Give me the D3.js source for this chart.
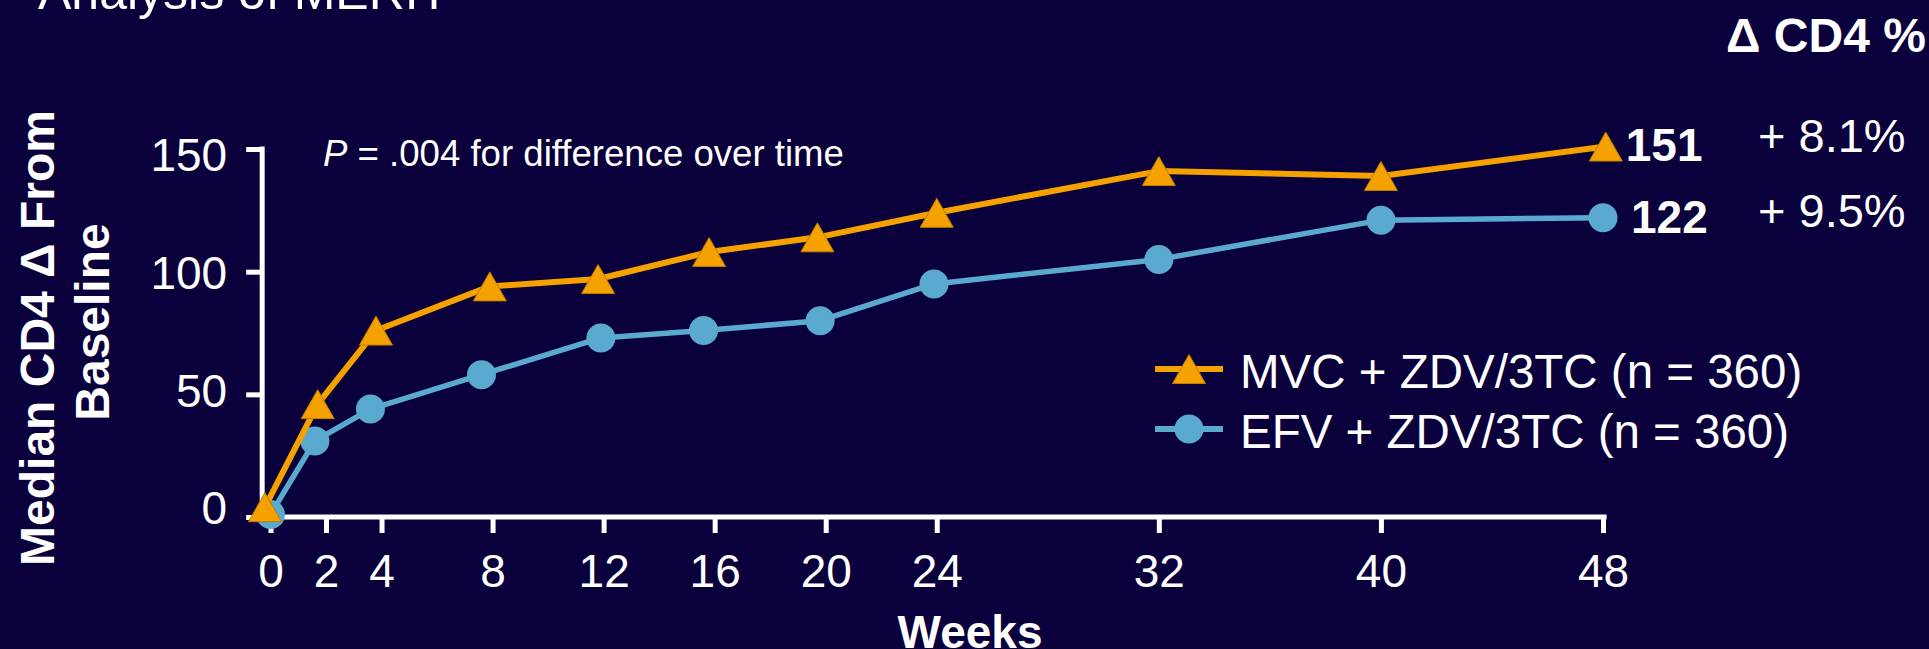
<!DOCTYPE html>
<html>
<head>
<meta charset="utf-8">
<script src="https://cdn.jsdelivr.net/npm/d3@7"></script>
<style>
  html, body { margin: 0; padding: 0; background: #0a003c; }
  svg { display: block; }
  text { font-family: "Liberation Sans", Arial, sans-serif; fill: #ffffff; }
</style>
</head>
<body>
<svg id="chart" width="1929" height="649"></svg>
<script>
// Week tick labels on the x axis
const weeks = [0, 2, 4, 8, 12, 16, 20, 24, 32, 40, 48];
// Y tick values
const yTicks = [0, 50, 100, 150];

// MVC + ZDV/3TC: visit week and median CD4 change from baseline
const mvcWeek = [-0.2, 1.7, 3.8, 7.9, 11.8, 15.8, 19.7, 24, 32, 40, 48.1];
const mvcCD4 = [4, 46, 76, 94, 97, 108, 114, 124, 141, 139, 151];

// EFV + ZDV/3TC: visit week and median CD4 change from baseline
const efvWeek = [0, 1.6, 3.6, 7.6, 11.9, 15.6, 19.8, 23.9, 32, 40, 48];
const efvCD4 = [1, 31, 44, 58, 73, 76, 80, 95, 105, 121, 122];

const seriesNames = ["MVC + ZDV/3TC (n = 360)", "EFV + ZDV/3TC (n = 360)"];
const pctChange = ["+ 8.1%", "+ 9.5%"];

const ORANGE = "#f5a100";
const BLUE = "#5aaacf";

const svg = d3.select("#chart");
svg.append("rect").attr("width", 1929).attr("height", 649).attr("fill", "#0a003c");

const x = d3.scaleLinear().domain([0, 48]).range([270.5, 1603]);
const y = d3.scaleLinear().domain([0, 150]).range([517, 149]);
// tick labels sit slightly inside the tick span
const yLabel = d3.scaleLinear().domain([0, 150]).range([509, 156]);

const axisX0 = x(-0.3);
const axisX1 = x(48.13);

// Title (runs off the top edge)
svg.append("text")
  .attr("x", 38).attr("y", 9)
  .attr("font-size", 50)
  .text("Analysis of MERIT");

// Y axis
const gy = svg.append("g").attr("transform", `translate(${axisX0},0)`);
gy.call(d3.axisLeft(y).tickValues(yTicks).tickSize(16).tickPadding(19).tickSizeOuter(0));
gy.select(".domain").remove();
gy.selectAll(".tick line").attr("stroke", "#fff").attr("stroke-width", 5);
gy.selectAll(".tick text")
  .attr("font-size", 46)
  .attr("fill", "#fff")
  .attr("font-family", "Liberation Sans, Arial, sans-serif")
  .attr("y", d => yLabel(d) - y(d));
gy.append("line")
  .attr("x1", 0).attr("x2", 0)
  .attr("y1", y(0)).attr("y2", y(150) - 2.5)
  .attr("stroke", "#fff").attr("stroke-width", 5);

// X axis
const gx = svg.append("g").attr("transform", `translate(0,${y(0)})`);
gx.call(d3.axisBottom(x).tickValues(weeks).tickSize(16).tickPadding(21).tickSizeOuter(0));
gx.select(".domain").remove();
gx.selectAll(".tick line").attr("stroke", "#fff").attr("stroke-width", 5);
gx.selectAll(".tick text")
  .attr("font-size", 46)
  .attr("fill", "#fff")
  .attr("font-family", "Liberation Sans, Arial, sans-serif");
gx.append("line")
  .attr("x1", axisX0 - 2.5).attr("x2", axisX1)
  .attr("y1", 0).attr("y2", 0)
  .attr("stroke", "#fff").attr("stroke-width", 5);

// Axis titles
svg.append("text")
  .attr("x", x(25.2)).attr("y", 648)
  .attr("text-anchor", "middle")
  .attr("font-size", 46).attr("font-weight", "bold")
  .text("Weeks");

const yTitle = svg.append("g").attr("transform", "rotate(-90)");
yTitle.append("text")
  .attr("x", -338).attr("y", 54)
  .attr("text-anchor", "middle")
  .attr("font-size", 48).attr("font-weight", "bold")
  .text("Median CD4 \u0394 From");
yTitle.append("text")
  .attr("x", -322).attr("y", 109)
  .attr("text-anchor", "middle")
  .attr("font-size", 48).attr("font-weight", "bold")
  .text("Baseline");

// P value note
const pText = svg.append("text")
  .attr("x", 323).attr("y", 166)
  .attr("font-size", 36.6);
pText.append("tspan").attr("font-style", "italic").text("P");
pText.append("tspan").text(" = .004 for difference over time");

// Series
const mvc = mvcWeek.map((w, i) => ({ w, v: mvcCD4[i] }));
const efv = efvWeek.map((w, i) => ({ w, v: efvCD4[i] }));
const line = d3.line().x(d => x(d.w)).y(d => y(d.v));

const TRI_W = 33, TRI_H = 29, DOT_R = 14.5;
const triPath = `M0,${-TRI_H / 2}L${TRI_W / 2},${TRI_H / 2}L${-TRI_W / 2},${TRI_H / 2}Z`;

svg.append("path").datum(efv)
  .attr("d", line).attr("fill", "none")
  .attr("stroke", BLUE).attr("stroke-width", 5.5).attr("stroke-linejoin", "round");
svg.selectAll(".efv-dot").data(efv).join("circle")
  .attr("class", "efv-dot")
  .attr("cx", d => x(d.w)).attr("cy", d => y(d.v)).attr("r", DOT_R)
  .attr("fill", BLUE);

svg.append("path").datum(mvc)
  .attr("d", line).attr("fill", "none")
  .attr("stroke", ORANGE).attr("stroke-width", 6).attr("stroke-linejoin", "round");
svg.selectAll(".mvc-tri").data(mvc).join("path")
  .attr("class", "mvc-tri")
  .attr("d", triPath)
  .attr("transform", d => `translate(${x(d.w)},${y(d.v)})`)
  .attr("fill", ORANGE).attr("stroke", "#c07c00").attr("stroke-width", 1);

// End values and percent change
const lastMvc = mvc[mvc.length - 1];
const lastEfv = efv[efv.length - 1];
svg.append("text")
  .attr("x", x(lastMvc.w) + 20).attr("y", y(lastMvc.v) + 14)
  .attr("font-size", 46).attr("font-weight", "bold")
  .text(lastMvc.v);
svg.append("text")
  .attr("x", x(lastEfv.w) + 28).attr("y", y(lastEfv.v) + 15)
  .attr("font-size", 46).attr("font-weight", "bold")
  .text(lastEfv.v);

svg.append("text")
  .attr("x", 1726).attr("y", 52)
  .attr("font-size", 48).attr("font-weight", "bold")
  .text("\u0394 CD4 %");
svg.append("text")
  .attr("x", 1758).attr("y", 152)
  .attr("font-size", 47)
  .text(pctChange[0]);
svg.append("text")
  .attr("x", 1758).attr("y", 227)
  .attr("font-size", 47)
  .text(pctChange[1]);

// Legend
const legend = svg.append("g");
const legendRows = [
  { name: seriesNames[0], color: ORANGE, shape: "tri", y: 369 },
  { name: seriesNames[1], color: BLUE, shape: "dot", y: 429 }
];
legendRows.forEach(r => {
  legend.append("line")
    .attr("x1", 1155).attr("x2", 1223)
    .attr("y1", r.y).attr("y2", r.y)
    .attr("stroke", r.color).attr("stroke-width", 6);
  if (r.shape === "tri") {
    legend.append("path").attr("d", triPath)
      .attr("transform", `translate(1189,${r.y})`)
      .attr("fill", r.color).attr("stroke", "#c07c00").attr("stroke-width", 1);
  } else {
    legend.append("circle").attr("cx", 1189).attr("cy", r.y).attr("r", DOT_R).attr("fill", r.color);
  }
  legend.append("text")
    .attr("x", 1240).attr("y", r.y + 19)
    .attr("font-size", 47.5)
    .text(r.name);
});
</script>
</body>
</html>
